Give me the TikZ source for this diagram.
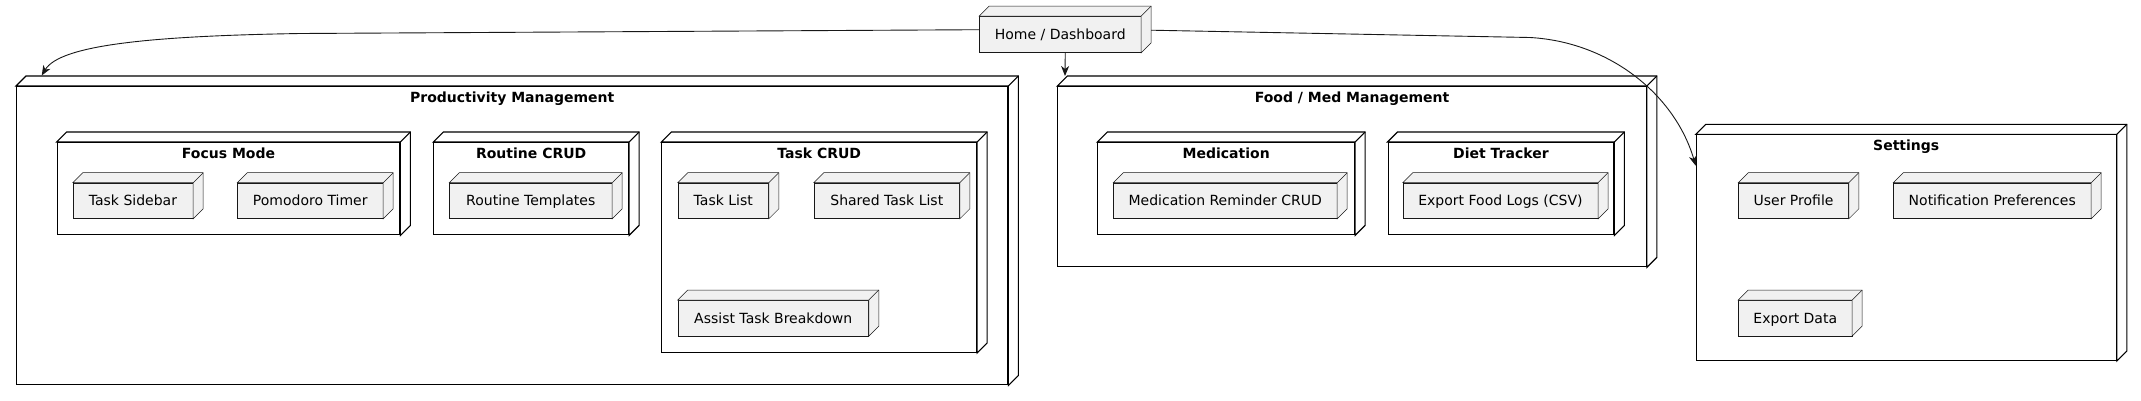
\documentclass[tikz,border=0pt]{standalone}
\usepackage{fontspec}
\setmainfont{DejaVu Sans}
\usetikzlibrary{positioning,arrows.meta}
\definecolor{nodefill}{HTML}{F1F1F1}
\definecolor{linegray}{HTML}{181818}
\newcommand\backface[2][]{%
    \path[#1] (#2.north west) -- ++(10,-10) -- ([shift={(10,-10)}]#2.north east)
        -- ([shift={(10,-10)}]#2.south east) -- (#2.south east) -- (#2.north east) -- cycle;
    \path[#1] (#2.north east) -- ++(10,-10);}
\begin{document}
\begin{tikzpicture}[x=1pt,y=-1pt,font=\fontsize{14}{16}\selectfont]
            \tikzstyle{frame}=[draw=black,line width=1.1pt,anchor=north west,inner sep=0pt]
            \tikzstyle{leaf}=[draw=linegray,line width=0.5pt,fill=nodefill,anchor=north west,inner sep=0pt,text height=10.2pt,text depth=0pt,minimum height=35.6pt]
            \tikzstyle{ttl}=[font=\fontsize{14}{16}\selectfont\bfseries,inner sep=0pt,text height=10.2pt,text depth=0pt]
            \tikzstyle{arr}=[draw=linegray,line width=0.9pt,-{Stealth[length=10pt,width=8pt,inset=3pt]}]

            \useasboundingbox (0,0) rectangle (2141,400);

            %home
            \node[leaf,minimum width=161.4pt,minimum height=36.3pt] (home) at (979.3,16) {Home / Dashboard};

            %productivity
            \node[frame,minimum width=991.3pt,minimum height=298.3pt] (prod) at (16,86) {};
            \node[frame,minimum width=342.6pt,minimum height=92.3pt] (focus) at (56.7,142) {};
            \node[frame,minimum width=194.7pt,minimum height=92.3pt] (routine) at (433.3,142) {};
            \node[frame,minimum width=314.7pt,minimum height=210pt] (taskcrud) at (661.3,142) {};
            \node[ttl,below=5.7pt of prod.north] (prodt) {Productivity Management};
            \node[ttl,below=5.7pt of focus.north] (focust) {Focus Mode};
            \node[ttl,below=5.7pt of routine.north] (routinet) {Routine CRUD};
            \node[ttl,below=5.7pt of taskcrud.north] (taskcrudt) {Task CRUD};
            \node[leaf,minimum width=120pt] (sidebar) at (72.7,182.7) {Task Sidebar};
            \node[leaf,minimum width=145.4pt] (pomodoro) at (237.3,182.7) {Pomodoro Timer};
            \node[leaf,minimum width=162.4pt] (templates) at (449.3,182.7) {Routine Templates};
            \node[leaf,minimum width=90.6pt] (tasklist) at (677.7,182.7) {Task List};
            \node[leaf,minimum width=145.5pt] (sharedlist) at (813.8,182.7) {Shared Task List};
            \node[leaf,minimum width=190.6pt] (breakdown) at (677.7,300) {Assist Task Breakdown};

            %food_med
            \node[frame,minimum width=588.4pt,minimum height=180.3pt] (food) at (1057.3,86) {};
            \node[frame,minimum width=256.7pt,minimum height=92.3pt] (medication) at (1097.3,142) {};
            \node[frame,minimum width=225.8pt,minimum height=92.3pt] (diet) at (1387.5,142) {};
            \node[ttl,below=5.7pt of food.north] (foodt) {Food / Med Management};
            \node[ttl,below=5.7pt of medication.north] (medicationt) {Medication};
            \node[ttl,below=5.7pt of diet.north] (dictt) {Diet Tracker};
            \node[leaf,minimum width=223.4pt] (reminder) at (1113.3,182.7) {Medication Reminder CRUD};
            \node[leaf,minimum width=194.8pt] (foodlogs) at (1402.8,182.7) {Export Food Logs (CSV)};

            %settings
            \node[frame,minimum width=420pt,minimum height=225.7pt] (settings) at (1695.7,134.3) {};
            \node[ttl,below=5.7pt of settings.north] (settingst) {Settings};
            \node[leaf,minimum width=110pt] (profile) at (1738.3,182.7) {User Profile};
            \node[leaf,minimum width=197.4pt] (notify) at (1893.3,182.7) {Notification Preferences};
            \node[leaf,minimum width=113.4pt] (exportdata) at (1738.3,300) {Export Data};

            \foreach \n in {prod,focus,routine,taskcrud,food,medication,diet,settings}
            {
                \backface[draw=black,line width=1.1pt]{\n}
            }
            \foreach \n in {home,sidebar,pomodoro,templates,tasklist,sharedlist,breakdown,reminder,foodlogs,profile,notify,exportdata}
            {
                \backface[draw=linegray,line width=0.5pt,fill=nodefill]{\n}
            }

            %links
            \draw[arr] ([yshift=4.7pt]home.west) -- (300,33.5) .. controls (150,36) and (60,45) .. ([shift={(25.7,-10.5)}]prod.north west);
            \draw[arr] ([xshift=5pt]home.south) -- ([shift={(7.7,-10)}]food.north west);
            \draw[arr] ([shift={(10,-4.2)}]home.east) -- (1530,37.5) .. controls (1610,42) and (1675,95) .. ([yshift=-31.4pt]settings.north west);

\end{tikzpicture}
\end{document}
